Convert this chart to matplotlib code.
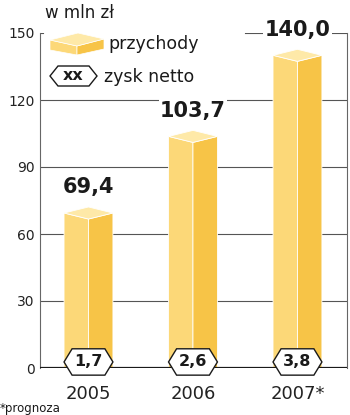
import matplotlib
matplotlib.use("Agg")
import matplotlib.pyplot as plt
from matplotlib.patches import Polygon

# data
years = ["2005", "2006", "2007*"]
revenue = [69.4, 103.7, 140.0]
profit = [1.7, 2.6, 3.8]
revenue_labels = ["69,4", "103,7", "140,0"]
profit_labels = ["1,7", "2,6", "3,8"]
yticks = [0, 30, 60, 90, 120, 150]

FACE_L = "#fcd878"
FACE_R = "#f7c447"
FACE_T = "#fee9a8"
INK = "#1a1a1a"

plt.rcParams["font.family"] = ["DejaVu Sans"]

W, H = 350, 415
fig = plt.figure(figsize=(W / 100, H / 100), dpi=100)
ax = fig.add_axes([40 / W, 47 / H, 307 / W, 335 / H])
ax.set_xlim(-0.464, 2.474)
ax.set_ylim(0, 150)

# grid
for v in yticks[1:-1]:
    ax.axhline(v, color="#555555", lw=0.8, zorder=1)
ax.axhline(150, xmin=0, xmax=0.01, color="#555555", lw=0.8, zorder=1)
ax.axhline(150, xmin=(245 - 40) / 307, xmax=1, color="#555555", lw=0.8, zorder=1)
ax.axhline(0, color=INK, lw=1.6, zorder=4)

for side in ["top", "bottom"]:
    ax.spines[side].set_visible(False)
for side in ["left", "right"]:
    ax.spines[side].set_color("#666666")
    ax.spines[side].set_linewidth(0.8)

w = 0.234   # half bar width
d = 2.7     # half height of top rhombus
for i, (v, lab) in enumerate(zip(revenue, revenue_labels)):
    left = [(i - w, 0), (i, 0), (i, v - d), (i - w, v)]
    right = [(i, 0), (i + w, 0), (i + w, v), (i, v - d)]
    top = [(i - w, v), (i, v + d), (i + w, v), (i, v - d)]
    for pts, c in [(left, FACE_L), (right, FACE_R), (top, FACE_T)]:
        ax.add_patch(Polygon(pts, closed=True, facecolor=c, edgecolor="white",
                             lw=0.6, zorder=2, clip_on=False))
    ax.text(i, v + 11.5, lab, ha="center", va="center", fontsize=15,
            fontweight="bold", color=INK, zorder=6,
            bbox=dict(facecolor="white", edgecolor="none", pad=1.0))

# hexagon profit labels
p = 0.077
h = 5.9
c = 2.7
for i, lab in enumerate(profit_labels):
    hexa = [(i - w, c), (i - w + p, c + h), (i + w - p, c + h), (i + w, c),
            (i + w - p, c - h), (i - w + p, c - h)]
    ax.add_patch(Polygon(hexa, closed=True, facecolor="white", edgecolor=INK,
                         lw=1.0, zorder=5, clip_on=False))
    ax.text(i, c, lab, ha="center", va="center", fontsize=11.5,
            fontweight="bold", color=INK, zorder=6)

ax.set_yticks(yticks)
ax.set_yticklabels([str(t) for t in yticks], fontsize=10, color="#222222")
ax.set_xticks(range(len(years)))
ax.set_xticklabels(years, fontsize=13, color="#222222")
ax.tick_params(axis="y", length=0, pad=4)
ax.tick_params(axis="x", length=0, pad=12)

# overlay in pixel coordinates for legend and notes
ov = fig.add_axes([0, 0, 1, 1], zorder=10)
ov.set_xlim(0, W)
ov.set_ylim(H, 0)
ov.axis("off")
ov.patch.set_alpha(0)

ov.text(45, 13, "w mln zł", fontsize=12, color=INK, va="center", ha="left")
# legend slab
ov.add_patch(Polygon([(50, 40), (77, 46), (77, 55), (50, 50)], facecolor=FACE_L, edgecolor="white", lw=0.5))
ov.add_patch(Polygon([(77, 46), (104, 39), (104, 49), (77, 55)], facecolor=FACE_R, edgecolor="white", lw=0.5))
ov.add_patch(Polygon([(50, 40), (78, 33), (104, 39), (77, 46)], facecolor=FACE_T, edgecolor="white", lw=0.5))
ov.text(108, 44, "przychody", fontsize=12.5, color=INK, va="center", ha="left")
# legend hexagon
ov.add_patch(Polygon([(50, 76), (58, 66), (89, 66), (97, 76), (89, 86), (58, 86)],
                     facecolor="white", edgecolor=INK, lw=1.0))
ov.text(73.5, 76, "xx", fontsize=11.5, fontweight="bold", color=INK, va="center", ha="center")
ov.text(104, 77, "zysk netto", fontsize=12.5, color=INK, va="center", ha="left")

ov.text(0, 408, "*prognoza", fontsize=8.5, color=INK, va="center", ha="left")

fig.savefig("out.png", dpi=100)
